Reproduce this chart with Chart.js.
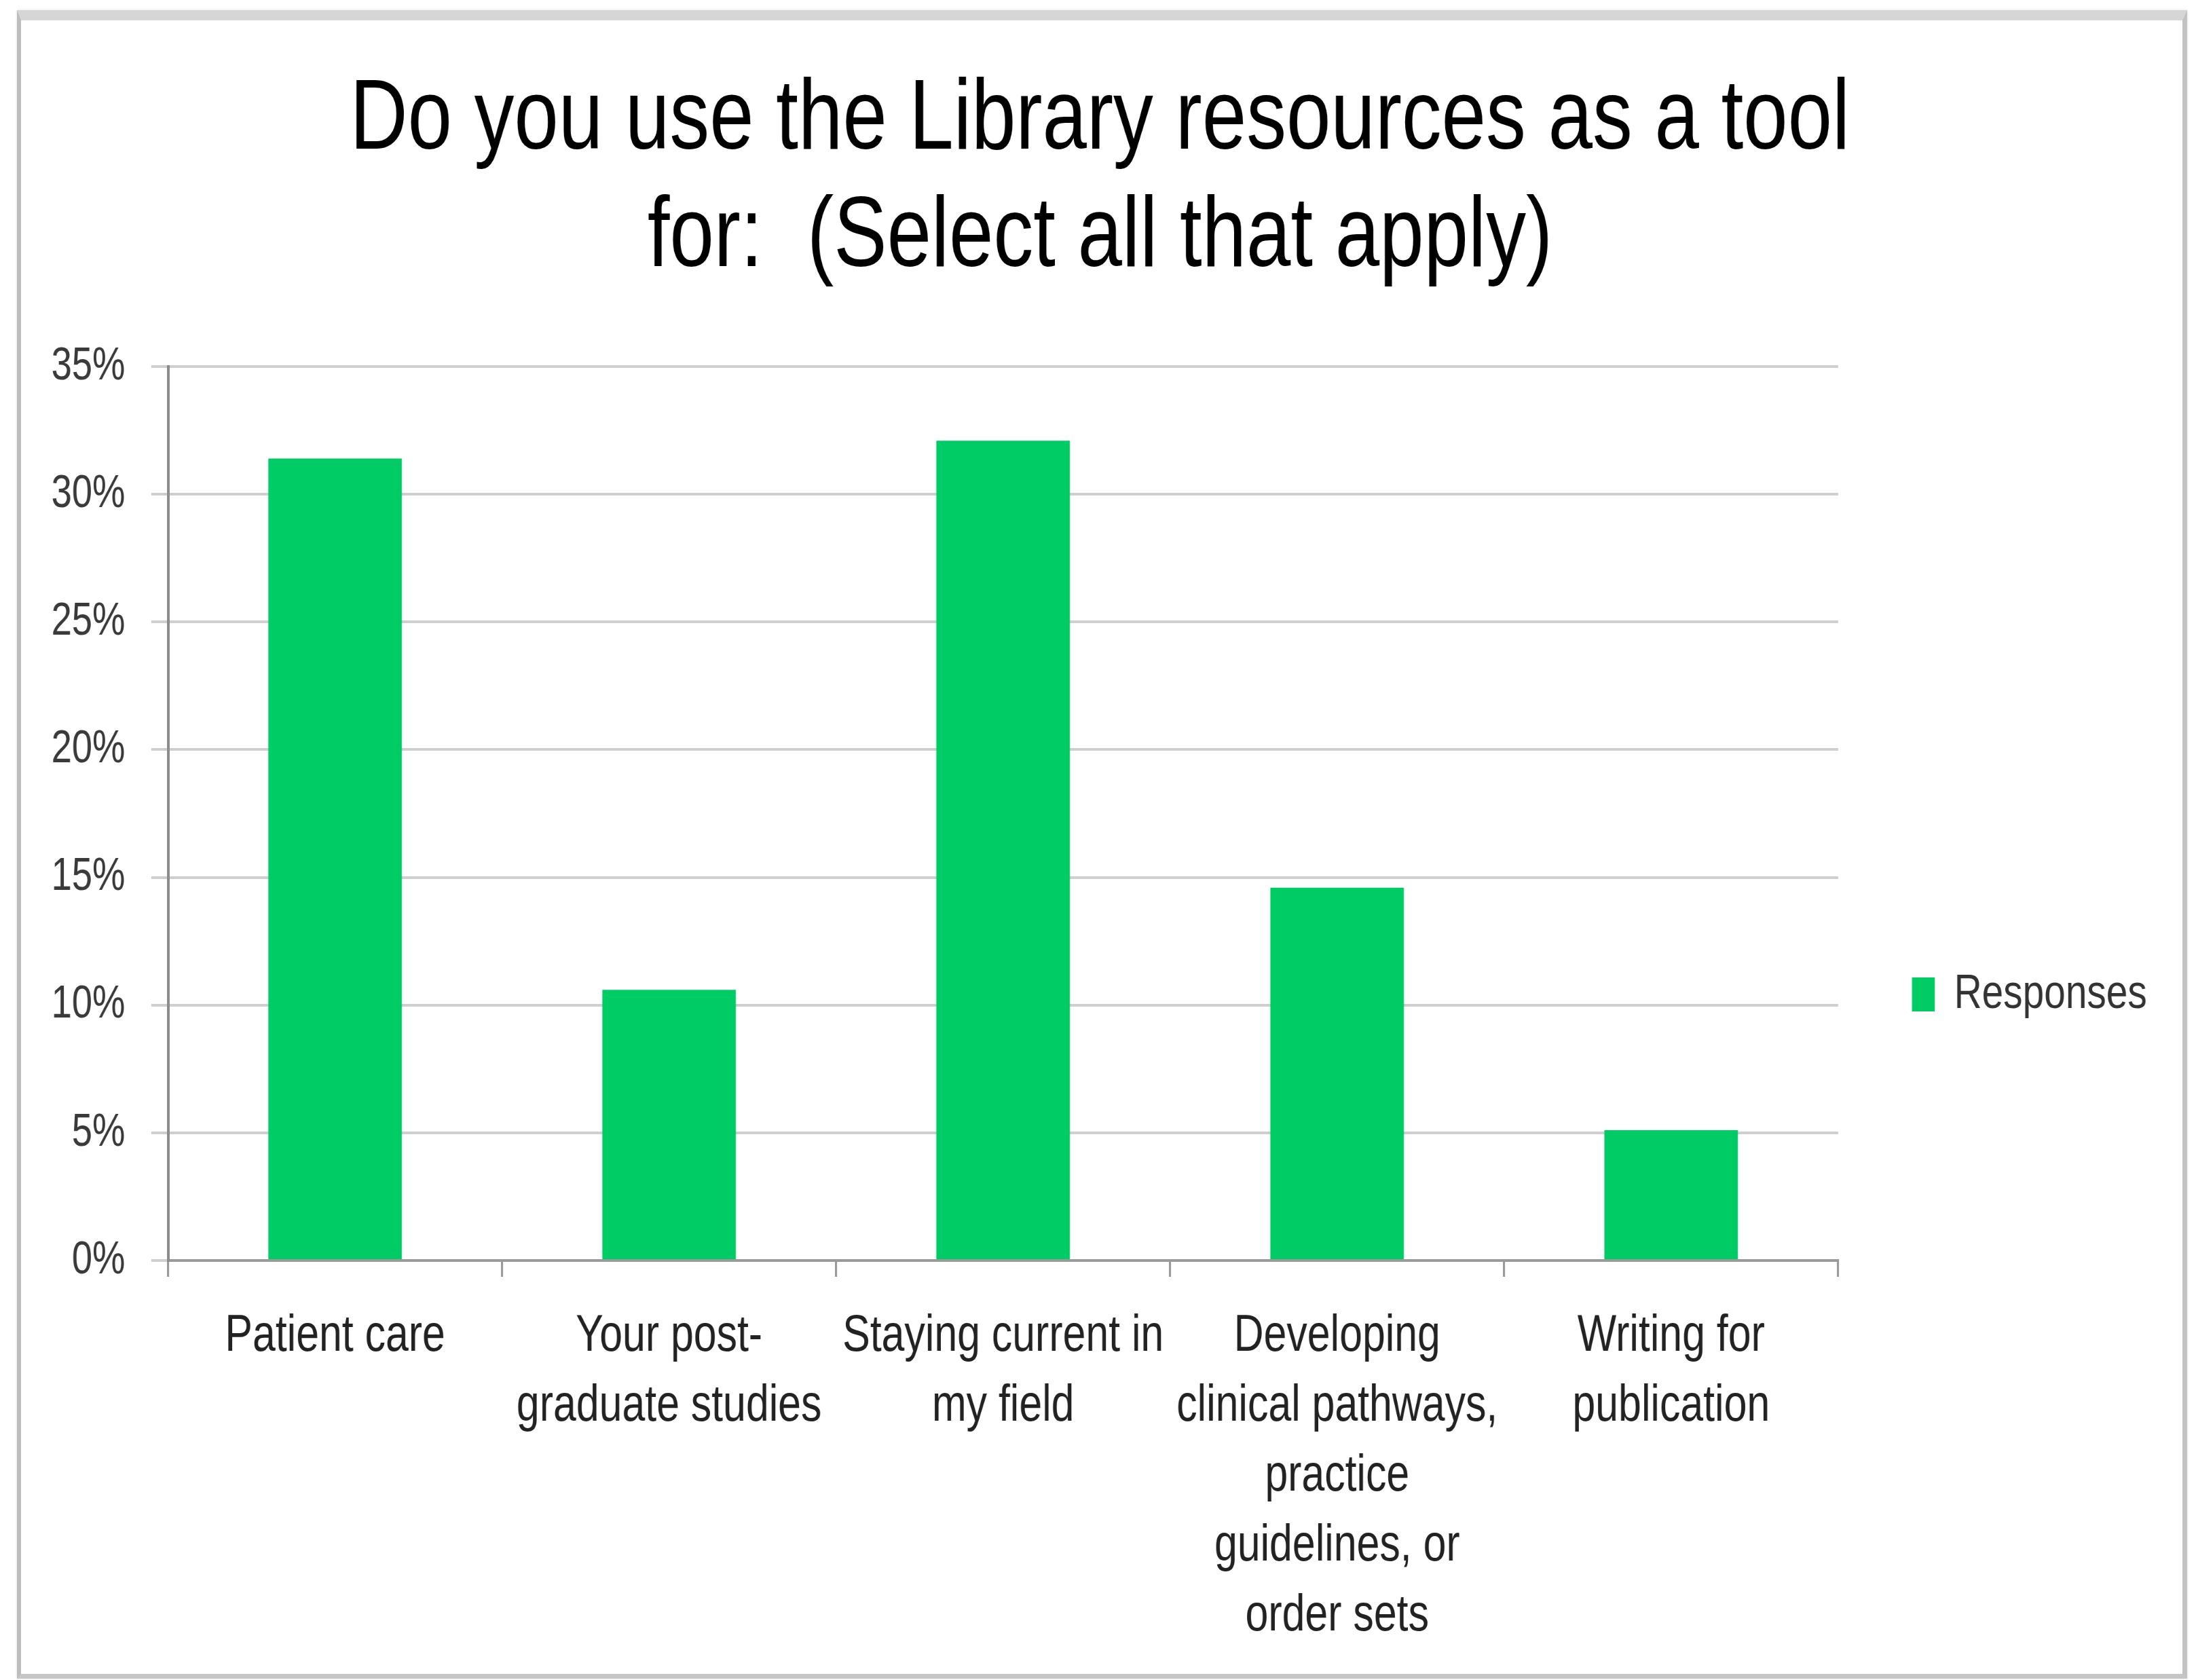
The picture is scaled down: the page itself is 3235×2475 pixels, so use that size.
<!DOCTYPE html>
<html>
<head>
<meta charset="utf-8">
<script src="https://cdn.jsdelivr.net/npm/chart.js@4.4.1/dist/chart.umd.min.js"></script>
<style>
  html, body { margin: 0; padding: 0; background: #ffffff; }
  body { width: 3235px; height: 2475px; position: relative; overflow: hidden; }
  #frame {
    position: absolute; left: 25px; top: 15px; width: 3197px; height: 2458px;
    box-sizing: border-box;
    border-left: 6px solid #bdbdbd; border-right: 7px solid #c2c2c2;
    border-bottom: 7px solid #c6c6c6; border-top: 15px solid #d6d6d6;
    box-shadow: 0 0 4px rgba(0,0,0,0.12);
  }
  /* canvas is drawn wider and compressed horizontally (narrow lettering as in the reference) */
  #c { position: absolute; left: 70px; top: 0; width: 3120px; height: 2475px; }
</style>
</head>
<body>
<div id="frame"></div>
<canvas id="c" width="3900" height="2475" style="width:3120px;height:2475px"></canvas>
<script>
// ---- data ----
const titleLines = ['Do you use the Library resources as a tool', 'for:  (Select all that apply)'];
const categories = [
  ['Patient care'],
  ['Your post-', 'graduate studies'],
  ['Staying current in', 'my field'],
  ['Developing', 'clinical pathways,', 'practice', 'guidelines, or', 'order sets'],
  ['Writing for', 'publication']
];
const seriesName = 'Responses';
const responses = [31.4, 10.6, 32.1, 14.6, 5.1];   // percent of respondents
const yTickValues = [0, 5, 10, 15, 20, 25, 30, 35];
const yTickLabels = ['0%', '5%', '10%', '15%', '20%', '25%', '30%', '35%'];

const FONT = "'Liberation Sans', Arial, sans-serif";
const barColor = '#00CC66';

const chart = new Chart(document.getElementById('c'), {
  type: 'bar',
  data: {
    labels: categories,
    datasets: [{
      label: seriesName,
      data: responses,
      backgroundColor: barColor,
      borderWidth: 0,
      categoryPercentage: 1.0,
      barPercentage: 0.4
    }]
  },
  options: {
    responsive: false,
    animation: false,
    devicePixelRatio: 1,
    layout: { padding: { left: 0, right: 24, top: 0, bottom: 0 } },
    plugins: {
      title: {
        display: true,
        text: titleLines,
        color: '#000000',
        font: { family: FONT, size: 147, weight: 'normal', lineHeight: 1.177 },
        padding: { top: 92, bottom: 102 }
      },
      legend: {
        display: true,
        position: 'right',
        align: 'center',
        title: { display: true, text: ' ', padding: { top: 454, bottom: 0 }, font: { size: 1, lineHeight: 1 } },
        labels: {
          boxWidth: 42,
          boxHeight: 50,
          padding: 136,
          color: '#333333',
          font: { family: FONT, size: 71 }
        }
      },
      tooltip: { enabled: false }
    },
    scales: {
      x: {
        offset: true,
        grid: {
          display: true,
          offset: true,
          drawOnChartArea: false,
          drawTicks: true,
          tickLength: 24,
          color: '#9a9a9a',
          lineWidth: 4
        },
        border: { display: true, color: '#9a9a9a', width: 4 },
        ticks: {
          autoSkip: false,
          maxRotation: 0,
          minRotation: 0,
          padding: 37,
          color: '#222222',
          font: { family: FONT, size: 76, lineHeight: 1.355 }
        },
        afterFit: (scale) => { scale.height = 618; }
      },
      y: {
        min: 0,
        max: 35,
        grid: {
          color: '#cfcfcf',
          lineWidth: 4,
          drawTicks: true,
          tickLength: 31
        },
        border: { display: true, color: '#8c8c8c', width: 5 },
        ticks: {
          stepSize: 5,
          padding: 48,
          color: '#3a3a3a',
          font: { family: FONT, size: 68 },
          callback: (value) => {
            const i = yTickValues.indexOf(value);
            return i >= 0 ? yTickLabels[i] : '';
          }
        },
        afterFit: (scale) => { scale.width = 222; }
      }
    }
  }
});
chart.canvas.style.width = '3120px';
chart.canvas.style.height = '2475px';
</script>
</body>
</html>
